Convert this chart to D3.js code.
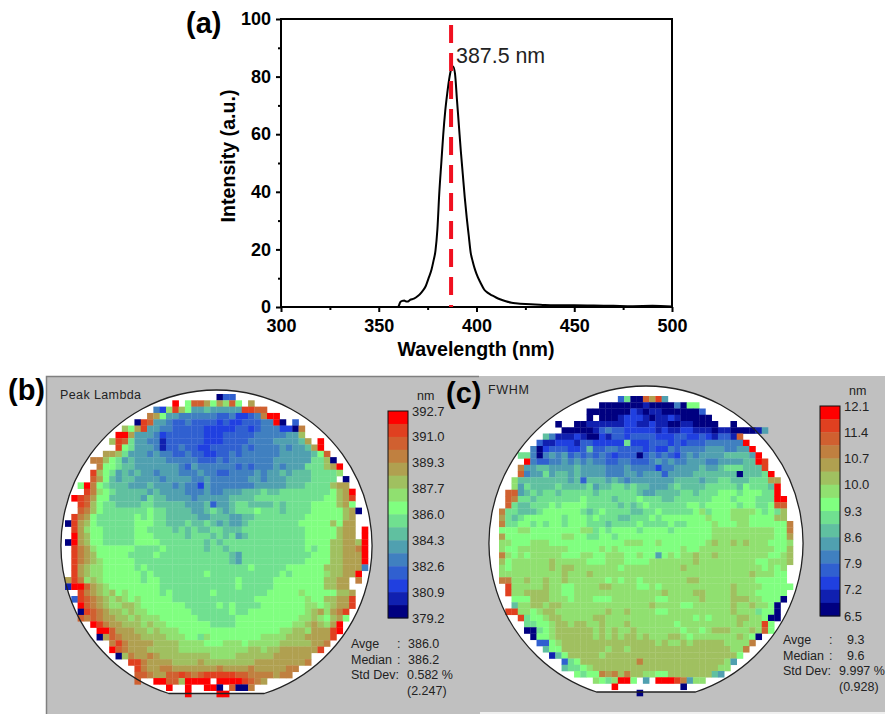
<!DOCTYPE html>
<html>
<head>
<meta charset="utf-8">
<title>Spectrum and wafer maps</title>
<script src="https://d3js.org/d3.v7.min.js"></script>
<style>
    html, body { margin: 0; padding: 0; background: #fff; }
    svg { display: block; font-family: "Liberation Sans", Arial, sans-serif; }
    .tick-bold text { font-size: 18px; font-weight: bold; fill: #000; }
    .tick-bold path, .tick-bold line { stroke: #000; stroke-width: 2px; }
    .title-bold { font-size: 19.6px; font-weight: bold; }
    .panel { font-size: 29px; font-weight: bold; }
    .small { font-size: 12.5px; fill: #222; }
</style>
</head>
<body>
<div id="chart"></div>
<script>
    // spectrum, panel (a)
    const wavelength = [360, 360.5, 361, 362, 363, 364, 365, 366, 368, 370, 372, 374, 375.5, 377, 378, 379, 380, 381, 382, 383, 384, 385, 386, 387, 388, 389, 390, 391, 392, 393, 394, 395, 396, 397, 398, 399, 400, 402, 404, 406, 408, 410, 412, 415, 418, 420, 425, 430, 435, 440, 450, 460, 470, 480, 490, 500];
    const intensity = [0, 0.8, 1.7, 2.1, 2.3, 1.9, 1.9, 2.5, 2.9, 3.8, 5.2, 7.2, 10, 13, 16, 19.5, 27, 40, 50, 60, 68, 74, 79, 82.5, 83.5, 81, 72, 63, 54, 46, 38, 31, 25, 19, 16, 13.5, 11.5, 8.5, 6, 4.8, 4, 3.3, 2.7, 2, 1.5, 1.3, 1, 0.9, 0.7, 0.6, 0.6, 0.5, 0.4, 0.3, 0.4, 0.2];
    const xTicks = [300, 350, 400, 450, 500];
    const xMinor = [325, 375, 425, 475];
    const yTicks = [0, 20, 40, 60, 80, 100];
    const yMinor = [10, 30, 50, 70, 90];
    const peakWavelength = 387;

    // wafer maps: one hex digit per cell, 0 = lowest colour band, f = highest, . = no cell
    const peakLambdaRows = [
        "........................033",
        ".................f.8ddb8b9d8.b",
        "..............429ea855655555eedd",
        ".............cb855444444" + "3342234cff",
        "...........0ed55433433" + "33232233" + "344f0.3",
        ".........a8be5" + "5443333" + "3222223323" + "444220c",
        "........ffb55" + "542333333" + "2223333344" + "44455a",
        ".......aed7554" + "4133333322" + "2333344445" + "5556b.f",
        "........e8755541" + "33433223" + "33334344" + "44545" + "56" + "bf",
        "......bba7555454" + "4334332233" + "4344444455" + "55568d",
        "....cca8756555" + "5544444333" + "4344444445" + "5555577a0",
        ".....c887665555" + "5554354444" + "4434344454" + "555777abf",
        "....ea87565655" + "4555444544" + "3344445455" + "6566677779",
        "....db86566555" + "5455554454" + "4444455455" + "566667777.0",
        "..8fc8766655" + "5655545442" + "5444444455" + "5556667777" + "abb",
        "...ec98766666" + "5655554445" + "4455566676" + "6777777778" + "abf",
        ".fedb886666" + "6576655554" + "5555566667" + "7777777777" + "88abe",
        "..eda8776666" + "7766666555" + "6355677666" + "6767777888" + "8ab8",
        "..dca8777777" + "7877666655" + "6765677787" + "7767777888" + "88ab0",
        ".ecb8777777" + "8787766666" + "5566655667" + "7777777888" + "888ab",
        "0eba877777" + "7888776667" + "6676565567" + "7777777888" + "88a8bb",
        ".eb98877777" + "8877776767" + "6677666777" + "7777777888" + "88abb.f",
        ".fba8877777" + "8887777767" + "7767675677" + "7777777888" + "88abb.f",
        "0fba887777" + "7888877777" + "7767677777" + "7777777788" + "88aabbaf",
        ".ecb9888888" + "7777877777" + "7677677777" + "7777777878" + "8aabbcf",
        ".ecba888887" + "7778777777" + "7777765777" + "7777777788" + "8aabbbf",
        ".ecba988888" + "7777777777" + "7777765777" + "7777777888" + "8aabbbf",
        ".eba9988888" + "7877777777" + "7777777787" + "7777888888" + "aaabbb4",
        ".eba9988888" + "8787777777" + "7877777777" + "7778788888" + "9aabbf",
        "bec9a98888" + "8878877777" + "7777777877" + "7778888888" + "8aabb.c",
        "1ffdba9888" + "8888877777" + "7777777877" + "7778888888" + "8aabb.",
        "..ecba9a8988" + "8887877777" + "7877777777" + "8888898888" + "8aab",
        ".3edcba9a98" + "9888887777" + "7777777778" + "8888888988" + "aabbe",
        "..fdcba99aa9" + "8888888777" + "7787877778" + "8888889989" + "abbe",
        "..0edcbaa9a9" + "9888888877" + "7777877888" + "8888889ab9" + "bce",
        "..dcdcbbaa9a" + "9998888887" + "7777788888" + "8888899a98" + "ab8",
        "....fecbbaaa9a" + "9988888887" + "7778888888" + "8899aba9bf",
        ".....ffdbbbaa9a" + "9998888888" + "8888888889" + "9aa9bbbef",
        ".....0bdcbbbaaa" + "a999887988" + "8888889999" + "aaabbbbe",
        ".......cecbbbbaaa" + "a999988899" + "9899999aaa" + "aabbc",
        ".......fdcbbbaaaa" + "a999999999" + "99aa9aabbb" + "bbbe",
        "........0acbbcbaaa" + "aaaaa9999a" + "aaaaabbbbb" + "b",
        "..........eecbbbbaaa" + "abaaaaaaaa" + "bbbbbbbbc",
        "...........ecbbccbbbb" + "bbbcbbbbcb" + "bbbbcc",
        "...........ddcbbddedc" + "deeeeeddcc" + "ccbcc",
        "...........d..ffddaffff.ffffedcb",
        "................f..f..ff0.d00c",
        "...................f....ff"
    ];
    const fwhmRows = [
        "...................3700dbe5",
        "................" + "0000000" + "1" + "0000" + "4" + "0" + "88",
        ".............." + "0000000" + "21011" + "00000" + "03",
        ".............." + "0.000" + "1222" + "101121" + "00000",
        "........." + "0..00" + "11111" + "12" + "21" + "12" + "11" + "0011" + "0000" + ".." + "0",
        ".........." + "00000" + "1343" + "3222" + "2212" + "1122" + "1110" + "1100" + "0015",
        "......." + "64" + "111" + "2100" + "2133" + "2333" + "3222" + "3322" + "3213" + "31d",
        "......" + "3112221" + "3322222" + "7" + "222333232333444444" + "f",
        "....." + "40233322" + "3" + "6" + "3344" + "3333" + "2322" + "4344" + "4455" + "5445" + "5f",
        "..." + "7740454534" + "3434323330" + "3434324545" + "55566665f",
        "...." + "f433445454" + "5443344333" + "4545445554" + "4555566fe",
        "..." + "c556655556" + "5555444544" + "4424455556" + "556777666e",
        "..." + "d455756656" + "5555444554" + "5553555566" + "6666606667f",
        ".." + "9666666665" + "6366656545" + "5555556666" + "5667766677" + "7bb",
        ".." + "9576666766" + "6675667767" + "6655567666" + "6777776877" + "76f",
        "." + "dd56767767" + "7777677777" + "7655666677" + "6777888788" + "877f",
        "." + "dc77677777" + "7787777677" + "7877766777" + "7778887888" + "777ff",
        "." + "d766777878" + "8887777767" + "6787777778" + "8788888788" + "778dd",
        "c776667888" + "8887678777" + "7667787777" + "7897888999" + "98787a",
        "b767888888" + "7888787776" + "6777878888" + "8889888999" + "8888aa",
        "c778878788" + "7888777677" + "7787777877" + "8888988899" + "888888c",
        "8889988888" + "8889978788" + "8878888788" + "8888999999" + "999988c",
        "b888888888" + "9988778878" + "8888888888" + "8888999999" + "999988b",
        "9988899988" + "8888888888" + "9998898888" + "8889a99a9a" + "9998889",
        "9889999999" + "9888889898" + "8888888889" + "8899999999" + "999988a",
        "c989899999" + "8889988999" + "8898858989" + "9a99a99999" + "999889a",
        "a8999999a9" + "9999888999" + "8888999999" + "9a99999999" + "988999a",
        "98999999a9" + "aa99999998" + "999999999a" + "9999999999" + "998989",
        "9999999999" + "a999a99999" + "9999999999" + "9999999999" + "a99988",
        "cc99a99a99" + "a999999898" + "9989999999" + "aa99999999" + "988888",
        "." + "e99999a998" + "89999aa999" + "9889899999" + "999999a999" + "988888",
        "." + "e99aaaa998" + "8999999999" + "99999a9999" + "aa9999a999" + "88888",
        ".." + "888aaa9998" + "9998889999" + "9998899999" + "a9999aaa99" + "8880",
        ".." + "699aa9aa99" + "9999999999" + "99a9999889" + "99999a99a9" + "980",
        "." + "ee9989aa99" + "999999a99a" + "9999889999" + "999999a999" + "7880",
        "..." + "e7889aa999" + "99aa999999" + "9999999989" + "89999aa998" + "00",
        "...." + "77889aa9aa" + "99a999a999" + "9999899999" + "9999a999e8",
        "...." + "00789aaaaa" + "a9a9a99a99" + "9999989989" + "aaa999a9d8",
        "....." + "0889aaaaaa" + "9a9a9aa9a9" + "99aa989999" + "999a980",
        "......" + "3389aaaaaa" + "aaaaaaaaa9" + "a99a9aaaaa" + "9999c",
        "......." + "688aaaaaaa" + "9aa9aaaaaa" + "aaaaaaaaaa" + "99c",
        "........" + "168aaaaa9a" + "aaaaaaaaaa" + "aaaaaaaaaa" + "8",
        ".........." + "378aaaaaaa" + "aacaaaaaaa" + "aaaaaa95",
        ".........." + "67789aaaaa" + "aaaaaaaaaa" + "aaaaa99",
        "............" + "8788cbcaca" + "a9988aaaaa" + "aa65",
        "..............." + "9879ff8.5.fffec599",
        "..................f..........0",
        "......................0"
    ];
    const bandCodes = "0123456789abcdef".split("");
    const bandColors = ["#000080", "#1020b0", "#2040e0", "#3060d0", "#4080c0", "#50a0b0", "#60c0a0", "#70e090", "#80ff80", "#90e070", "#a0c060", "#b0a050", "#c08040", "#d06030", "#e04020", "#ff0000"];
    const peakScaleLabels = ["392.7", "391.0", "389.3", "387.7", "386.0", "384.3", "382.6", "380.9", "379.2"];
    const fwhmScaleLabels = ["12.1", "11.4", "10.7", "10.0", "9.3", "8.6", "7.9", "7.2", "6.5"];
    const peakStats = [["Avge", ":", "386.0"], ["Median", ":", "386.2"], ["Std Dev:", "", "0.582 %"], ["", "", "(2.247)"]];
    const fwhmStats = [["Avge", ":", "9.3"], ["Median", ":", "9.6"], ["Std Dev:", "", "9.997 %"], ["", "", "(0.928)"]];

    const svg = d3.select("#chart").append("svg")
        .attr("width", 885)
        .attr("height", 714);

    const color = d3.scaleOrdinal().domain(bandCodes).range(bandColors);

    // grey window behind the two maps
    svg.append("rect").attr("x", 46).attr("y", 376).attr("width", 839).attr("height", 338).attr("fill", "#c0c0c0");
    svg.append("path").attr("d", "M46.5,714V376.5H479").attr("fill", "none").attr("stroke", "#808080").attr("stroke-width", 1.5);
    svg.append("rect").attr("x", 480).attr("y", 712).attr("width", 405).attr("height", 2).attr("fill", "#f0f0f0");

    // ---- panel (a) ----
    const x = d3.scaleLinear().domain([300, 500]).range([281, 672]);
    const y = d3.scaleLinear().domain([0, 100]).range([307, 19]);

    svg.append("rect")
        .attr("x", 281).attr("y", 19).attr("width", 391).attr("height", 288)
        .attr("fill", "none").attr("stroke", "#000").attr("stroke-width", 2);

    svg.append("g").attr("class", "tick-bold").attr("transform", "translate(0,307)")
        .call(d3.axisBottom(x).tickValues(xTicks).tickSize(5).tickSizeOuter(0).tickPadding(7))
        .call(g => g.select(".domain").remove());
    svg.append("g").attr("class", "tick-bold").attr("transform", "translate(0,307)")
        .call(d3.axisBottom(x).tickValues(xMinor).tickSize(3).tickFormat(""))
        .call(g => g.select(".domain").remove());
    svg.append("g").attr("class", "tick-bold").attr("transform", "translate(281,0)")
        .call(d3.axisLeft(y).tickValues(yTicks).tickSize(5).tickPadding(5))
        .call(g => g.select(".domain").remove());
    svg.append("g").attr("class", "tick-bold").attr("transform", "translate(281,0)")
        .call(d3.axisLeft(y).tickValues(yMinor).tickSize(3).tickFormat(""))
        .call(g => g.select(".domain").remove());

    const line = d3.line()
        .x(i => x(wavelength[i]))
        .y(i => y(intensity[i]))
        .curve(d3.curveMonotoneX);
    svg.append("path")
        .attr("d", line(d3.range(wavelength.length)))
        .attr("fill", "none").attr("stroke", "#000").attr("stroke-width", 2);

    svg.append("line")
        .attr("x1", x(peakWavelength)).attr("x2", x(peakWavelength))
        .attr("y1", 25).attr("y2", 307)
        .attr("stroke", "#f01020").attr("stroke-width", 4).attr("stroke-dasharray", "18,10");

    svg.append("text").attr("x", 456).attr("y", 63).attr("font-size", 21.4).attr("fill", "#222").text("387.5 nm");
    svg.append("text").attr("class", "title-bold").attr("x", 476).attr("y", 356).attr("text-anchor", "middle").text("Wavelength (nm)");
    svg.append("text").attr("class", "title-bold").attr("transform", "translate(235,156) rotate(-90)").attr("text-anchor", "middle").text("Intensity (a.u.)");

    // ---- panels (b), (c) ----
    function waferMap(o) {
        const g = svg.append("g");
        const nRows = o.rows.length;
        const col = d3.scaleBand().domain(d3.range(o.cols)).range([o.x0, o.x1]);
        const row = d3.scaleBand().domain(d3.range(nRows)).range([o.y0, o.y1]);

        // round wafer with the flat at the bottom
        const dy = o.flat - o.cy;
        const dx = Math.sqrt(o.r * o.r - dy * dy);
        const outline = `M${o.cx - dx},${o.flat}A${o.r},${o.r} 0 1 1 ${o.cx + dx},${o.flat}Z`;
        g.append("path").attr("d", outline).attr("fill", "#fff");

        const cells = [];
        o.rows.forEach((s, r) => s.split("").forEach((v, c) => { if (v !== ".") cells.push({r, c, v}); }));
        g.selectAll("rect.cell").data(cells).enter().append("rect")
            .attr("class", "cell")
            .attr("x", d => col(d.c))
            .attr("y", d => row(d.r))
            .attr("width", col.bandwidth() + 0.3)
            .attr("height", row.bandwidth() + 0.3)
            .attr("fill", d => color(d.v));

        g.append("path").attr("d", outline).attr("fill", "none").attr("stroke", "#222").attr("stroke-width", 1.3);

        g.append("text").attr("class", "small").attr("x", o.titleX).attr("y", o.titleY).attr("textLength", o.titleW).text(o.title);

        // colour scale
        const band = d3.scaleBand().domain(bandCodes.slice().reverse()).range([o.lg.y0, o.lg.y1]);
        g.selectAll("rect.band").data(band.domain()).enter().append("rect")
            .attr("class", "band")
            .attr("x", o.lg.x).attr("width", o.lg.w)
            .attr("y", d => band(d)).attr("height", band.bandwidth() + 0.3)
            .attr("fill", d => color(d));
        g.append("rect")
            .attr("x", o.lg.x).attr("y", o.lg.y0).attr("width", o.lg.w).attr("height", o.lg.y1 - o.lg.y0)
            .attr("fill", "none").attr("stroke", "#111").attr("stroke-width", 1);

        const lab = d3.scalePoint().domain(o.labels).range([o.lg.y0, o.lg.y1]);
        g.selectAll("text.scale").data(o.labels).enter().append("text")
            .attr("class", "small scale")
            .attr("x", o.lg.x + o.lg.w + 4)
            .attr("y", d => lab(d) + 4.5)
            .style("font-size", "13px")
            .text(d => d);
        g.append("text").attr("class", "small").attr("x", o.lg.x + o.lg.w + 9).attr("y", o.lg.y0 - 11).text("nm");

        // statistics block
        o.stats.forEach((s, i) => {
            const ty = o.st.y + i * 15.7;
            g.append("text").attr("class", "small").attr("x", o.st.x0).attr("y", ty).text(s[0]);
            g.append("text").attr("class", "small").attr("x", o.st.x1).attr("y", ty).text(s[1]);
            g.append("text").attr("class", "small").attr("x", o.st.x2 + (i >= 2 ? o.st.d : 0)).attr("y", ty).text(s[2]);
        });
    }

    waferMap({
        rows: peakLambdaRows, cols: 48, x0: 65, x1: 368, y0: 394, y1: 697,
        cx: 216.5, cy: 545.5, r: 155.5, flat: 693.5,
        title: "Peak Lambda", titleX: 60, titleY: 399, titleW: 81,
        lg: {x: 388, w: 20, y0: 411, y1: 618}, labels: peakScaleLabels,
        stats: peakStats, st: {x0: 351, x1: 397, x2: 408, y: 648, d: -1}
    });
    waferMap({
        rows: fwhmRows, cols: 47, x0: 499, x1: 793, y0: 396, y1: 696,
        cx: 646, cy: 543, r: 157, flat: 692,
        title: "FWHM", titleX: 488, titleY: 394, titleW: 41,
        lg: {x: 820, w: 20, y0: 406, y1: 616}, labels: fwhmScaleLabels,
        stats: fwhmStats, st: {x0: 783, x1: 829, x2: 847, y: 644, d: -8}
    });

    svg.append("text").attr("class", "panel").attr("x", 186).attr("y", 33).text("(a)");
    svg.append("text").attr("class", "panel").attr("x", 8).attr("y", 400).text("(b)");
    svg.append("text").attr("class", "panel").attr("x", 446).attr("y", 403).text("(c)");
</script>
</body>
</html>
